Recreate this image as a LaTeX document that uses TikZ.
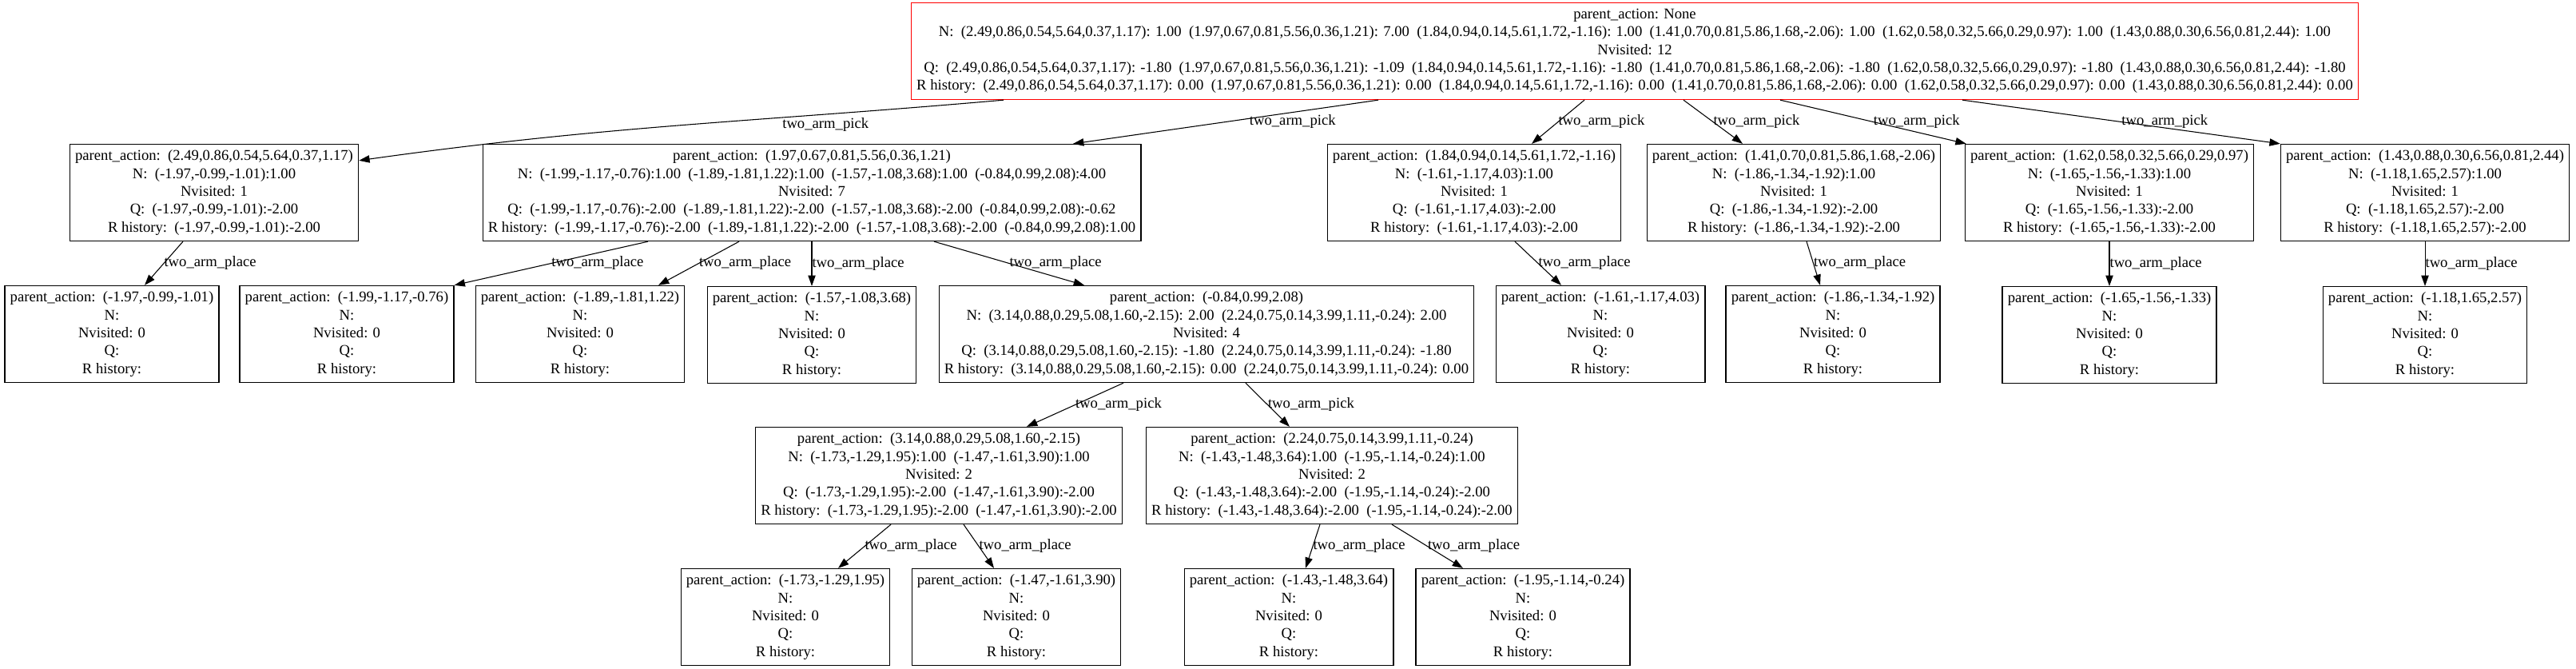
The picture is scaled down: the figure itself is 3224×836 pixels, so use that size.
\documentclass[tikz,border=0pt]{standalone}
\usepackage{fontspec}
\setmainfont{Liberation Serif}
\usetikzlibrary{arrows.meta,positioning,calc}

\begin{document}
\begin{tikzpicture}[x=0.75pt, y=-0.75pt,
	state/.style={draw, line width=1pt, rectangle, align=center, inner xsep=5pt, inner ysep=3pt,
		minimum height=90.75pt, font=\fontsize{14}{16.8}\selectfont},
	rootstate/.style={state, draw=red},
	act/.style={-{Triangle[length=10pt, width=7pt]}, line width=0.8pt},
	lbl/.style={font=\fontsize{14}{16.8}\selectfont, inner sep=0pt, anchor=west},
]
	\useasboundingbox (0,0) rectangle (3224,836);

	\node[rootstate] (r) at (2046,64) {parent\_action: None\\
		N:~~(2.49,0.86,0.54,5.64,0.37,1.17): 1.00~~(1.97,0.67,0.81,5.56,0.36,1.21): 7.00~~(1.84,0.94,0.14,5.61,1.72,-1.16): 1.00~~(1.41,0.70,0.81,5.86,1.68,-2.06): 1.00~~(1.62,0.58,0.32,5.66,0.29,0.97): 1.00~~(1.43,0.88,0.30,6.56,0.81,2.44): 1.00\\
		Nvisited: 12\\
		Q:~~(2.49,0.86,0.54,5.64,0.37,1.17): -1.80~~(1.97,0.67,0.81,5.56,0.36,1.21): -1.09~~(1.84,0.94,0.14,5.61,1.72,-1.16): -1.80~~(1.41,0.70,0.81,5.86,1.68,-2.06): -1.80~~(1.62,0.58,0.32,5.66,0.29,0.97): -1.80~~(1.43,0.88,0.30,6.56,0.81,2.44): -1.80\\
		R history:~~(2.49,0.86,0.54,5.64,0.37,1.17): 0.00~~(1.97,0.67,0.81,5.56,0.36,1.21): 0.00~~(1.84,0.94,0.14,5.61,1.72,-1.16): 0.00~~(1.41,0.70,0.81,5.86,1.68,-2.06): 0.00~~(1.62,0.58,0.32,5.66,0.29,0.97): 0.00~~(1.43,0.88,0.30,6.56,0.81,2.44): 0.00};

	\node[state] (a1) at (268,241) {parent\_action:~~(2.49,0.86,0.54,5.64,0.37,1.17)\\
		N:~~(-1.97,-0.99,-1.01):1.00\\ Nvisited: 1\\ Q:~~(-1.97,-0.99,-1.01):-2.00\\ R history:~~(-1.97,-0.99,-1.01):-2.00};
	\node[state] (a2) at (1016,241) {parent\_action:~~(1.97,0.67,0.81,5.56,0.36,1.21)\\
		N:~~(-1.99,-1.17,-0.76):1.00~~(-1.89,-1.81,1.22):1.00~~(-1.57,-1.08,3.68):1.00~~(-0.84,0.99,2.08):4.00\\
		Nvisited: 7\\
		Q:~~(-1.99,-1.17,-0.76):-2.00~~(-1.89,-1.81,1.22):-2.00~~(-1.57,-1.08,3.68):-2.00~~(-0.84,0.99,2.08):-0.62\\
		R history:~~(-1.99,-1.17,-0.76):-2.00~~(-1.89,-1.81,1.22):-2.00~~(-1.57,-1.08,3.68):-2.00~~(-0.84,0.99,2.08):1.00};
	\node[state] (a3) at (1845,241) {parent\_action:~~(1.84,0.94,0.14,5.61,1.72,-1.16)\\
		N:~~(-1.61,-1.17,4.03):1.00\\ Nvisited: 1\\ Q:~~(-1.61,-1.17,4.03):-2.00\\ R history:~~(-1.61,-1.17,4.03):-2.00};
	\node[state] (a4) at (2245,241) {parent\_action:~~(1.41,0.70,0.81,5.86,1.68,-2.06)\\
		N:~~(-1.86,-1.34,-1.92):1.00\\ Nvisited: 1\\ Q:~~(-1.86,-1.34,-1.92):-2.00\\ R history:~~(-1.86,-1.34,-1.92):-2.00};
	\node[state] (a5) at (2640,241) {parent\_action:~~(1.62,0.58,0.32,5.66,0.29,0.97)\\
		N:~~(-1.65,-1.56,-1.33):1.00\\ Nvisited: 1\\ Q:~~(-1.65,-1.56,-1.33):-2.00\\ R history:~~(-1.65,-1.56,-1.33):-2.00};
	\node[state] (a6) at (3035,241) {parent\_action:~~(1.43,0.88,0.30,6.56,0.81,2.44)\\
		N:~~(-1.18,1.65,2.57):1.00\\ Nvisited: 1\\ Q:~~(-1.18,1.65,2.57):-2.00\\ R history:~~(-1.18,1.65,2.57):-2.00};

	\node[state] (b1) at (140,418) {parent\_action:~~(-1.97,-0.99,-1.01)\\ N:\\ Nvisited: 0\\ Q:\\ R history:};
	\node[state] (b2) at (434,418) {parent\_action:~~(-1.99,-1.17,-0.76)\\ N:\\ Nvisited: 0\\ Q:\\ R history:};
	\node[state] (b3) at (726,418) {parent\_action:~~(-1.89,-1.81,1.22)\\ N:\\ Nvisited: 0\\ Q:\\ R history:};
	\node[state, below=41.8pt of a2] (b4) {parent\_action:~~(-1.57,-1.08,3.68)\\ N:\\ Nvisited: 0\\ Q:\\ R history:};
	\node[state] (b5) at (1510,418) {parent\_action:~~(-0.84,0.99,2.08)\\
		N:~~(3.14,0.88,0.29,5.08,1.60,-2.15): 2.00~~(2.24,0.75,0.14,3.99,1.11,-0.24): 2.00\\
		Nvisited: 4\\
		Q:~~(3.14,0.88,0.29,5.08,1.60,-2.15): -1.80~~(2.24,0.75,0.14,3.99,1.11,-0.24): -1.80\\
		R history:~~(3.14,0.88,0.29,5.08,1.60,-2.15): 0.00~~(2.24,0.75,0.14,3.99,1.11,-0.24): 0.00};
	\node[state] (b6) at (2003,418) {parent\_action:~~(-1.61,-1.17,4.03)\\ N:\\ Nvisited: 0\\ Q:\\ R history:};
	\node[state] (b7) at (2294,418) {parent\_action:~~(-1.86,-1.34,-1.92)\\ N:\\ Nvisited: 0\\ Q:\\ R history:};
	\node[state, below=41.8pt of a5] (b8) {parent\_action:~~(-1.65,-1.56,-1.33)\\ N:\\ Nvisited: 0\\ Q:\\ R history:};
	\node[state, below=41.8pt of a6] (b9) {parent\_action:~~(-1.18,1.65,2.57)\\ N:\\ Nvisited: 0\\ Q:\\ R history:};

	\node[state] (c1) at (1175,595) {parent\_action:~~(3.14,0.88,0.29,5.08,1.60,-2.15)\\
		N:~~(-1.73,-1.29,1.95):1.00~~(-1.47,-1.61,3.90):1.00\\
		Nvisited: 2\\
		Q:~~(-1.73,-1.29,1.95):-2.00~~(-1.47,-1.61,3.90):-2.00\\
		R history:~~(-1.73,-1.29,1.95):-2.00~~(-1.47,-1.61,3.90):-2.00};
	\node[state] (c2) at (1667,595) {parent\_action:~~(2.24,0.75,0.14,3.99,1.11,-0.24)\\
		N:~~(-1.43,-1.48,3.64):1.00~~(-1.95,-1.14,-0.24):1.00\\
		Nvisited: 2\\
		Q:~~(-1.43,-1.48,3.64):-2.00~~(-1.95,-1.14,-0.24):-2.00\\
		R history:~~(-1.43,-1.48,3.64):-2.00~~(-1.95,-1.14,-0.24):-2.00};

	\node[state] (d1) at (983,772) {parent\_action:~~(-1.73,-1.29,1.95)\\ N:\\ Nvisited: 0\\ Q:\\ R history:};
	\node[state] (d2) at (1272,772) {parent\_action:~~(-1.47,-1.61,3.90)\\ N:\\ Nvisited: 0\\ Q:\\ R history:};
	\node[state] (d3) at (1613,772) {parent\_action:~~(-1.43,-1.48,3.64)\\ N:\\ Nvisited: 0\\ Q:\\ R history:};
	\node[state] (d4) at (1906,772) {parent\_action:~~(-1.95,-1.14,-0.24)\\ N:\\ Nvisited: 0\\ Q:\\ R history:};

	\draw[act] ($(r.south)+(-790,0)$) to[out=185, in=8]
		node[lbl, pos=0.33, anchor=north west] {two\_arm\_pick} ($(a1.north east)+(0,21)$);
	\draw[act] ($(r.south)+(-321,0)$) -- node[lbl, pos=0.5, xshift=22pt] {two\_arm\_pick} ($(a2.north)+(327,0)$);
	\draw[act] ($(r.south)+(-63,0)$) -- node[lbl, pos=0.5] {two\_arm\_pick} ($(a3.north)+(72,0)$);
	\draw[act] ($(r.south)+(61,0)$) -- node[lbl, pos=0.5] {two\_arm\_pick} ($(a4.north)+(-64,0)$);
	\draw[act] ($(r.south)+(182,0)$) -- node[lbl, pos=0.5] {two\_arm\_pick} ($(a5.north west)+(2,0)$);
	\draw[act] ($(r.south)+(410,0)$) -- node[lbl, pos=0.5] {two\_arm\_pick} (a6.north west);

	\draw[act] ($(a1.south)+(-39,0)$) -- node[lbl, pos=0.5] {two\_arm\_place} ($(b1.north)+(41,0)$);
	\draw[act] ($(a2.south)+(-205,0)$) -- node[lbl, pos=0.5] {two\_arm\_place} (b2.north east);
	\draw[act] ($(a2.south)+(-91,0)$) -- node[lbl, pos=0.5] {two\_arm\_place} ($(b3.north)+(98,0)$);
	\draw[act] (a2.south) -- node[lbl, pos=0.5] {two\_arm\_place} (b4.north);
	\draw[act] ($(a2.south)+(153,0)$) -- node[lbl, pos=0.5] {two\_arm\_place} ($(b5.north)+(-153,0)$);
	\draw[act] ($(a3.south)+(51,0)$) -- node[lbl, pos=0.5] {two\_arm\_place} ($(b6.north)+(-49,0)$);
	\draw[act] ($(a4.south)+(16,0)$) -- node[lbl, pos=0.5] {two\_arm\_place} ($(b7.north)+(-16,0)$);
	\draw[act] (a5.south) -- node[lbl, pos=0.5] {two\_arm\_place} (b8.north);
	\draw[act] (a6.south) -- node[lbl, pos=0.5] {two\_arm\_place} (b9.north);

	\draw[act] ($(b5.south)+(-104,0)$) -- node[lbl, pos=0.5] {two\_arm\_pick} ($(c1.north)+(110,0)$);
	\draw[act] ($(b5.south)+(49,0)$) -- node[lbl, pos=0.5] {two\_arm\_pick} ($(c2.north)+(-53,0)$);

	\draw[act] ($(c1.south)+(-60,0)$) -- node[lbl, pos=0.5] {two\_arm\_place} ($(d1.north)+(66,0)$);
	\draw[act] ($(c1.south)+(31,0)$) -- node[lbl, pos=0.5] {two\_arm\_place} ($(d2.north)+(-28,0)$);
	\draw[act] ($(c2.south)+(-15,0)$) -- node[lbl, pos=0.5] {two\_arm\_place} ($(d3.north)+(21,0)$);
	\draw[act] ($(c2.south)+(75,0)$) -- node[lbl, pos=0.5] {two\_arm\_place} ($(d4.north)+(-75,0)$);
\end{tikzpicture}
\end{document}
